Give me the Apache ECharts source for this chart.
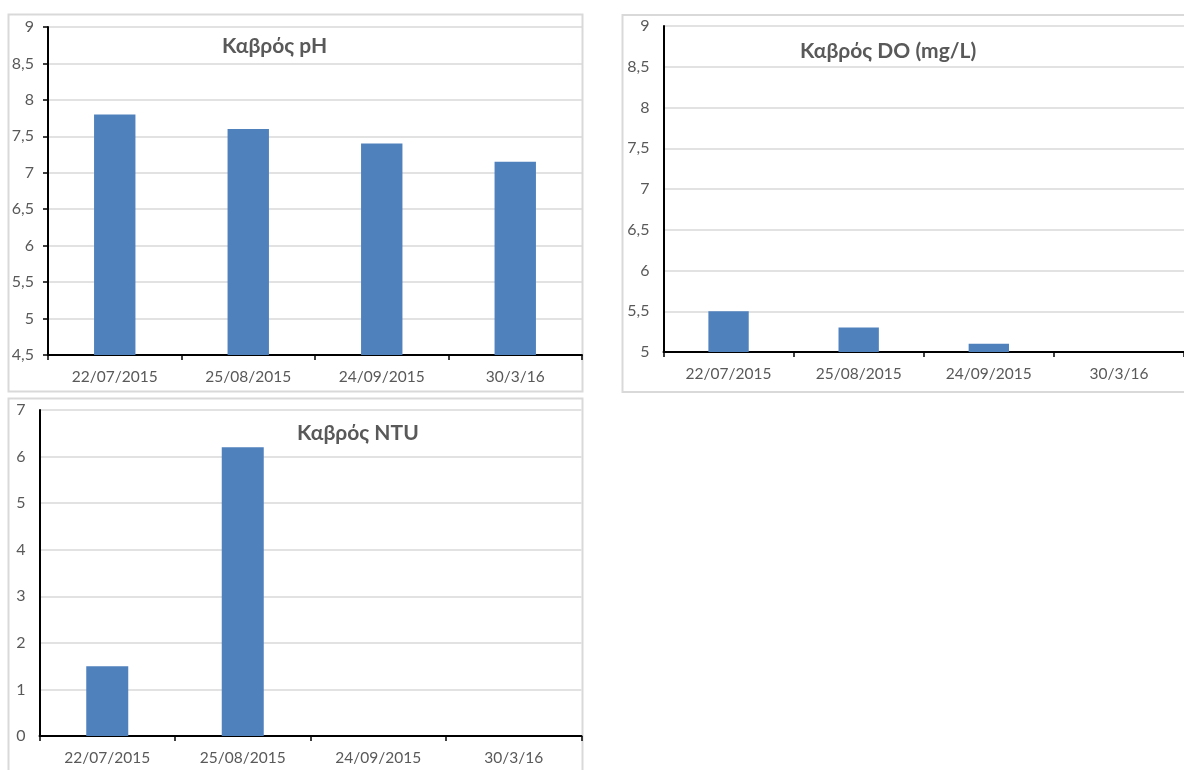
<!DOCTYPE html>
<html>
<head>
<meta charset="utf-8">
<title>Καβρός</title>
<script src="https://cdn.jsdelivr.net/npm/echarts@6/dist/echarts.min.js"></script>
<style>
  html, body { margin: 0; padding: 0; background: #ffffff; }
  #chart { width: 1184px; height: 770px; }
</style>
</head>
<body>
<div id="chart"></div>
<script>
// Sampling dates shared by all three panels
const dates = ['22/07/2015', '25/08/2015', '24/09/2015', '30/3/16'];

// Measured values per parameter
const phValues = [7.8, 7.6, 7.4, 7.15];
const doValues = [5.5, 5.3, 5.1, null];
const ntuValues = [1.5, 6.2, 0, 0];

// Panel titles
const titles = ['Καβρός pH', 'Καβρός DO (mg/L)', 'Καβρός NTU'];

const FONT = "Lato, 'Noto Sans', sans-serif";
const TEXT = '#595959';
const GRIDLINE = '#d9d9d9';
const BAR = '#4f81bd';

const comma = v => String(v).replace('.', ',');

function xAxis(gridIndex) {
  return {
    type: 'category',
    gridIndex,
    data: dates,
    boundaryGap: true,
    axisLine: { show: true, lineStyle: { color: '#000', width: 2 } },
    axisTick: { show: true, length: 5, lineStyle: { color: '#000', width: 1.5 } },
    axisLabel: { color: TEXT, fontFamily: FONT, fontSize: 15.5, margin: 14 }
  };
}

function yAxis(gridIndex, min, max, interval, ticks) {
  return {
    type: 'value',
    gridIndex,
    min, max, interval,
    axisLine: { show: true, onZero: false, lineStyle: { color: '#000', width: 2 } },
    axisTick: { show: ticks, length: 5, lineStyle: { color: '#000', width: 1.5 } },
    splitLine: { show: true, lineStyle: { color: GRIDLINE, width: 1.5 } },
    axisLabel: { color: TEXT, fontFamily: FONT, fontSize: 16, margin: 14, formatter: comma }
  };
}

function panelBorder(x, y, w, h) {
  return {
    type: 'rect',
    shape: { x, y, width: w, height: h },
    style: { fill: null, stroke: GRIDLINE, lineWidth: 2 },
    silent: true,
    z: -1
  };
}

const chart = echarts.init(document.getElementById('chart'), null, { renderer: 'canvas' });

chart.setOption({
  backgroundColor: '#ffffff',
  animation: false,
  title: [
    { text: titles[0], left: 222, top: 36 },
    { text: titles[1], left: 800, top: 41 },
    { text: titles[2], left: 297, top: 423 }
  ].map(t => Object.assign(t, {
    padding: 0,
    textStyle: { color: TEXT, fontFamily: FONT, fontSize: 21, fontWeight: 'bold' }
  })),
  grid: [
    { left: 48, top: 27, width: 534, height: 328 },
    { left: 663.5, top: 26, width: 534, height: 326 },
    { left: 39.5, top: 410, width: 542, height: 326 }
  ],
  xAxis: [xAxis(0), xAxis(1), xAxis(2)],
  yAxis: [
    yAxis(0, 4.5, 9, 0.5, true),
    yAxis(1, 5, 9, 0.5, false),
    yAxis(2, 0, 7, 1, false)
  ],
  graphic: [
    panelBorder(8.5, 14.5, 574, 377),
    panelBorder(622.5, 15, 590, 377),
    panelBorder(8.5, 398.5, 574, 390)
  ],
  series: [
    { type: 'bar', xAxisIndex: 0, yAxisIndex: 0, data: phValues, barWidth: '31%', itemStyle: { color: BAR } },
    { type: 'bar', xAxisIndex: 1, yAxisIndex: 1, data: doValues, barWidth: '31%', itemStyle: { color: BAR } },
    { type: 'bar', xAxisIndex: 2, yAxisIndex: 2, data: ntuValues, barWidth: '31%', itemStyle: { color: BAR } }
  ]
});
</script>
</body>
</html>
